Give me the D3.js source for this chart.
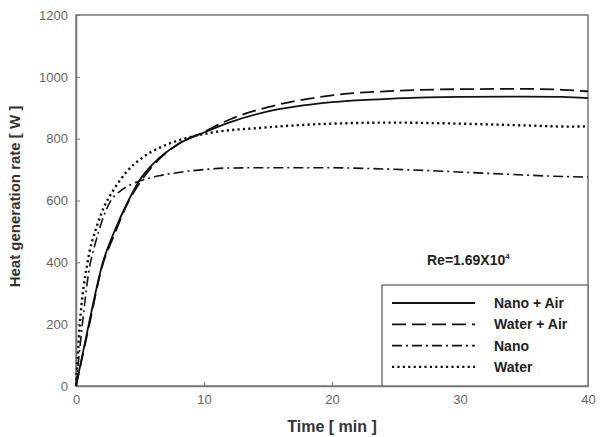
<!DOCTYPE html>
<html>
<head>
<meta charset="utf-8">
<script src="https://cdn.jsdelivr.net/npm/d3@7"></script>
<style>
  body { margin: 0; background: #fff; }
  svg { display: block; font-family: "Liberation Sans", Arial, sans-serif; }
</style>
</head>
<body>
<svg id="chart" width="604" height="437"></svg>
<script>
// values (time in min, heat in W)
const xTicks = [0, 10, 20, 30, 40];
const yTicks = [0, 200, 400, 600, 800, 1000, 1200];

const nanoAirT = [0, 1, 2.1, 3, 4.1, 5, 6, 8, 10, 12, 15, 20, 25, 30, 35, 38, 40];
const nanoAirV = [0, 200, 400, 500, 600, 668, 718, 783, 820, 853, 888, 918, 930, 935, 936, 935, 931];

const waterAirT = [0, 1, 2, 3, 4, 5, 6, 8, 10, 12, 15, 18, 20, 25, 30, 35, 38, 40];
const waterAirV = [0, 190, 380, 490, 588, 658, 712, 783, 822, 862, 902, 928, 940, 955, 960, 961, 958, 953];

const nanoT = [0, 0.5, 1, 1.5, 2, 2.7, 3.5, 4.3, 5.2, 6.5, 7.9, 10, 11.8, 15, 19.6, 24, 27.4, 32.6, 38.6, 40];
const nanoV = [0, 200, 370, 460, 530, 598, 632, 652, 666, 680, 690, 700, 705, 706, 706, 702, 697, 687, 677, 676];

const waterT = [0, 0.3, 0.9, 1.6, 2.2, 2.9, 4, 5.2, 6.5, 7.9, 10.5, 14.4, 19.6, 24.8, 30.5, 35, 38.6, 40];
const waterV = [0, 200, 400, 513, 580, 632, 695, 739, 770, 793, 819, 835, 848, 852, 848, 843, 839, 840];

const series = [
  { name: "Nano + Air", t: nanoAirT, v: nanoAirV, dash: null, width: 1.8 },
  { name: "Water + Air", t: waterAirT, v: waterAirV, dash: "14,6", width: 1.8 },
  { name: "Nano", t: nanoT, v: nanoV, dash: "10,4,2,4", width: 1.6 },
  { name: "Water", t: waterT, v: waterV, dash: "2.2,3.2", width: 2.4 }
];

const svg = d3.select('#chart');
const plotL = 76, plotR = 588, plotT = 15, plotB = 386;

const x = d3.scaleLinear().domain([0, 40]).range([plotL, plotR]);
const y = d3.scaleLinear().domain([0, 1200]).range([plotB, plotT]);

const axisColor = '#777';
const labelColor = '#666';

// frame
svg.append('rect')
  .attr('x', plotL).attr('y', plotT)
  .attr('width', plotR - plotL).attr('height', plotB - plotT)
  .attr('fill', 'none').attr('stroke', axisColor).attr('stroke-width', 1.5);

// axes (ticks point inward)
const yAxis = d3.axisLeft(y).tickValues(yTicks).tickFormat(d3.format('d'))
  .tickSizeInner(-4).tickSizeOuter(0).tickPadding(8);
const gy = svg.append('g').attr('transform', `translate(${plotL},0)`).call(yAxis);
const xAxis = d3.axisBottom(x).tickValues(xTicks).tickFormat(d3.format('d'))
  .tickSizeInner(-4).tickSizeOuter(0).tickPadding(9);
const gx = svg.append('g').attr('transform', `translate(0,${plotB})`).call(xAxis);

[gx, gy].forEach(g => {
  g.select('.domain').attr('stroke', axisColor).attr('stroke-width', 1.5);
  g.selectAll('.tick line').attr('stroke', axisColor);
  g.selectAll('.tick text')
    .attr('fill', labelColor)
    .style('font-size', '13px')
    .style('font-family', '"Liberation Sans", Arial, sans-serif');
});

// curves
const line = d3.line().x(d => x(d[0])).y(d => y(d[1])).curve(d3.curveMonotoneX);
series.forEach(s => {
  svg.append('path')
    .datum(s.t.map((t, i) => [t, s.v[i]]))
    .attr('d', line)
    .attr('fill', 'none')
    .attr('stroke', '#111')
    .attr('stroke-width', s.width)
    .attr('stroke-dasharray', s.dash);
});

// axis titles
svg.append('text')
  .attr('x', (plotL + plotR) / 2).attr('y', 432)
  .attr('text-anchor', 'middle')
  .attr('fill', '#333')
  .style('font-size', '16px').style('font-weight', 'bold')
  .text('Time [ min ]');

svg.append('text')
  .attr('transform', `translate(20,${(plotT + plotB) / 2 - 4}) rotate(-90)`)
  .attr('text-anchor', 'middle')
  .attr('fill', '#333')
  .style('font-size', '15px').style('font-weight', 'bold')
  .text('Heat generation rate [ W ]');

// Reynolds label
const re = svg.append('text')
  .attr('x', 427).attr('y', 265)
  .attr('fill', '#222')
  .style('font-size', '14px').style('font-weight', 'bold');
re.append('tspan').text('Re=1.69X10');
re.append('tspan').attr('dy', -6).style('font-size', '8px').text('4');

// legend
const lg = svg.append('g');
lg.append('rect')
  .attr('x', 382).attr('y', 285)
  .attr('width', plotR - 382).attr('height', plotB - 285)
  .attr('fill', '#fff').attr('stroke', axisColor).attr('stroke-width', 1.5);

series.forEach((s, i) => {
  const ly = 303 + i * 21.3;
  lg.append('line')
    .attr('x1', 392).attr('x2', 475)
    .attr('y1', ly).attr('y2', ly)
    .attr('stroke', '#111')
    .attr('stroke-width', s.width)
    .attr('stroke-dasharray', s.dash);
  lg.append('text')
    .attr('x', 494).attr('y', ly + 5)
    .attr('fill', '#222')
    .style('font-size', '14px').style('font-weight', 'bold')
    .text(s.name);
});
</script>
</body>
</html>
